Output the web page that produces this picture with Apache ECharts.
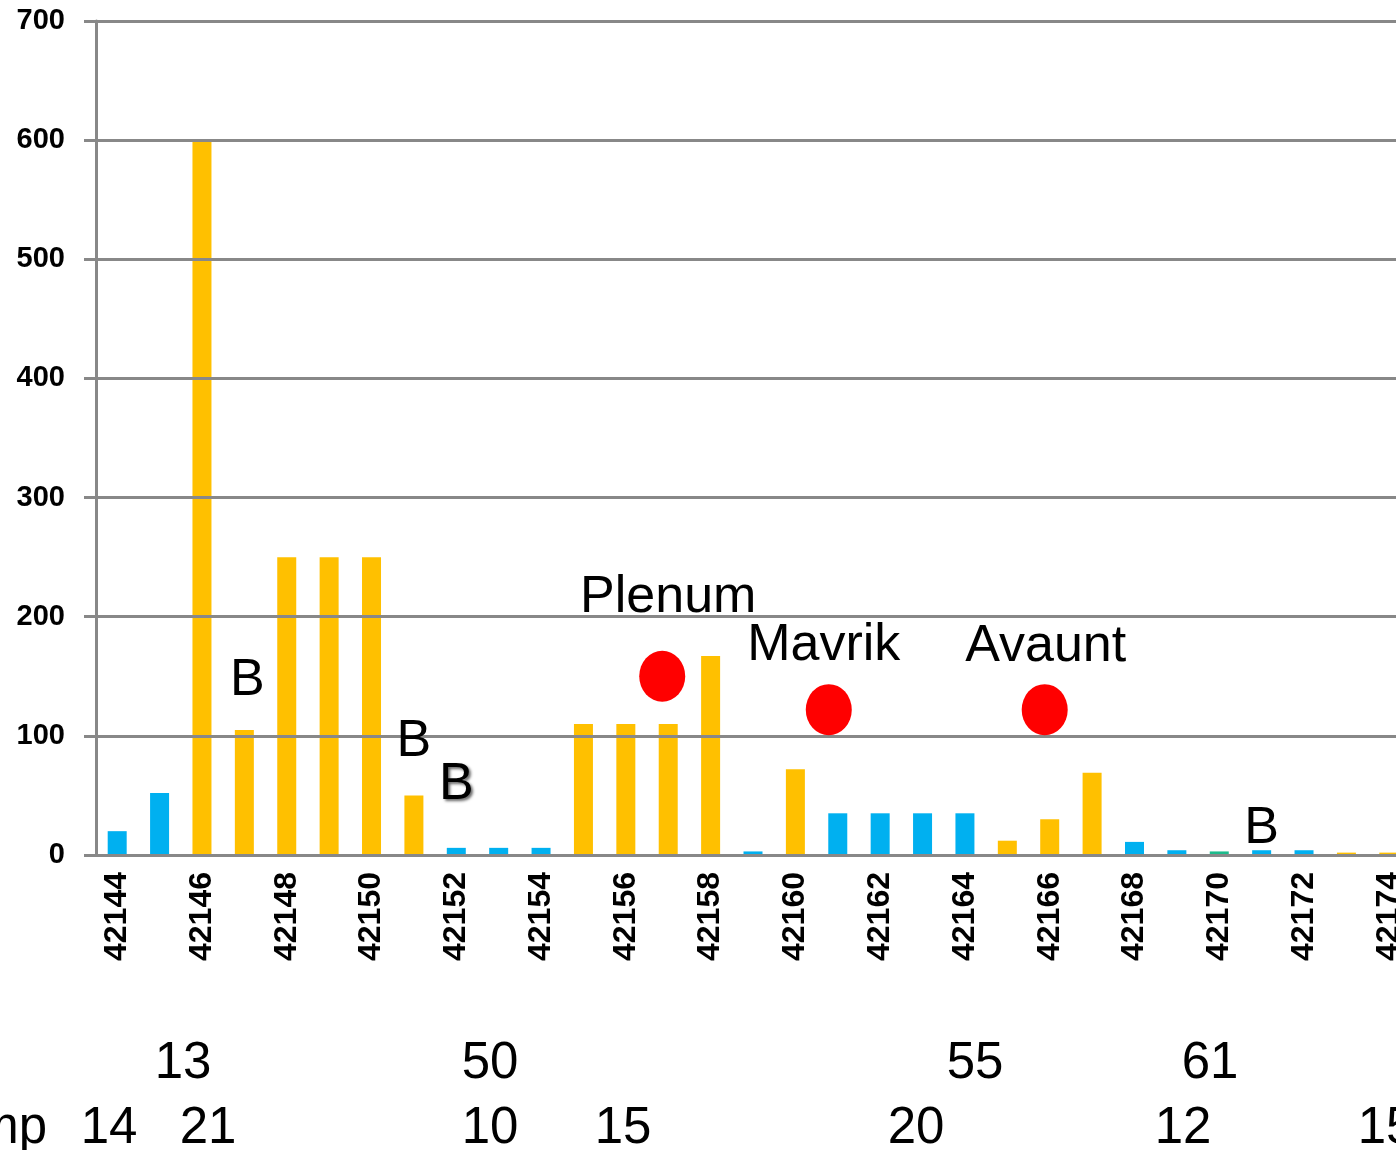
<!DOCTYPE html>
<html>
<head>
<meta charset="utf-8">
<script src="https://cdn.jsdelivr.net/npm/echarts@6/dist/echarts.min.js"></script>
<style>
  html, body { margin: 0; padding: 0; background: #fff; }
  #chart { width: 1396px; height: 1150px; }
</style>
</head>
<body>
<div id="chart"></div>
<script>
// categories along the x axis
const categories = ['42144', '42145', '42146', '42147', '42148', '42149', '42150', '42151',
  '42152', '42153', '42154', '42155', '42156', '42157', '42158', '42159', '42160', '42161',
  '42162', '42163', '42164', '42165', '42166', '42167', '42168', '42169', '42170', '42171',
  '42172', '42173', '42174']
const values = [20, 52, 600, 105, 250, 250, 250, 50, 6, 6, 6, 110, 110, 110, 167, 3, 72,
  35, 35, 35, 35, 12, 30, 69, 11, 4, 3, 4, 4, 2, 2]
// o = orange, b = blue, g = green
const kinds = ['b', 'b', 'o', 'o', 'o', 'o', 'o', 'o', 'b', 'b', 'b', 'o', 'o', 'o', 'o', 'b',
  'o', 'b', 'b', 'b', 'b', 'o', 'o', 'o', 'b', 'b', 'g', 'b', 'b', 'o', 'o']

const yTicks = [0, 100, 200, 300, 400, 500, 600, 700]

// red dots
const dotCats = ['42157', '42161', '42166']
const dotValues = [150, 122, 122]

// text notes inside the plot
const noteTexts = ['B', 'B', 'B', 'B', 'Plenum', 'Mavrik', 'Avaunt']
const noteCats = ['42147', '42151', '42152', '42171', '42157', '42161', '42166']
const noteValues = [146, 95, 59, 22, 216, 176, 175]

// rows of numbers under the chart
const rowOne = ['13', '50', '55', '61']
const rowTwo = ['Temp', '14', '21', '10', '15', '20', '12', '15']

const colors = { o: '#FFC000', b: '#00B0F0', g: '#1DBB8C' }
const gridGray = '#888888'
const font = '"Liberation Sans", Arial, sans-serif'

const chart = echarts.init(document.getElementById('chart'))

const rowOneX = [183, 490, 975, 1210]
const rowTwoX = [47, 109, 208, 490, 623, 916, 1183, 1386]
const dotShift = [-6, -9, -5]

const graphic = []
rowOne.forEach((t, i) => {
  graphic.push({
    type: 'text', x: rowOneX[i], y: 1064,
    style: { text: t, font: '51px ' + font, fill: '#000', align: 'center', verticalAlign: 'middle' },
  })
})
rowTwo.forEach((t, i) => {
  graphic.push({
    type: 'text', x: rowTwoX[i], y: 1129,
    style: {
      text: t, font: '51px ' + font, fill: '#000',
      align: i === 0 ? 'right' : 'center', verticalAlign: 'middle',
    },
  })
})

chart.setOption({
  animation: false,
  backgroundColor: '#fff',
  grid: {
    left: 96,
    top: 21,
    width: 1314,
    height: 834,
    outerBoundsMode: 'none',
  },
  xAxis: {
    type: 'category',
    data: categories,
    z: 5,
    axisLine: { lineStyle: { color: gridGray, width: 3 } },
    axisTick: { interval: 1, length: 12, lineStyle: { color: gridGray, width: 3 } },
    axisLabel: {
      interval: 1,
      rotate: 90,
      margin: 17,
      color: '#000',
      fontWeight: 'bold',
      fontSize: 32,
      fontFamily: font,
    },
  },
  yAxis: {
    type: 'value',
    min: yTicks[0],
    max: yTicks[yTicks.length - 1],
    interval: 100,
    z: 5,
    axisLine: { show: true, lineStyle: { color: gridGray, width: 3 } },
    axisTick: { show: true, length: 12, lineStyle: { color: gridGray, width: 3 } },
    splitLine: { lineStyle: { color: gridGray, width: 3 } },
    axisLabel: {
      margin: 31,
      color: '#000',
      fontWeight: 'bold',
      fontSize: 29,
      fontFamily: font,
    },
  },
  series: [
    {
      type: 'bar',
      z: 1,
      barWidth: 19,
      data: values.map((v, i) => ({ value: v, itemStyle: { color: colors[kinds[i]] } })),
    },
    {
      type: 'scatter',
      z: 6,
      symbol: 'circle',
      symbolSize: [46, 51],
      itemStyle: { color: '#FF0000', opacity: 1 },
      data: dotCats.map((c, i) => ({ value: [c, dotValues[i]], symbolOffset: [dotShift[i], 0] })),
    },
    {
      type: 'scatter',
      z: 7,
      symbolSize: 0,
      silent: true,
      itemStyle: { opacity: 1 },
      data: noteCats.map((c, i) => {
        const item = { name: noteTexts[i], value: [c, noteValues[i]] }
        if (i === 2) {
          item.label = {
            textShadowColor: 'rgba(0,0,0,0.6)', textShadowBlur: 3,
            textShadowOffsetX: 2, textShadowOffsetY: 2,
          }
        }
        if (i === 0) item.label = { offset: [3, 0] }
        if (i === 5) item.label = { offset: [-14, 0] }
        if (i === 6) item.label = { offset: [-4, 0] }
        return item
      }),
      label: {
        show: true,
        position: 'inside',
        formatter: p => p.name,
        color: '#000',
        opacity: 1,
        fontSize: 52,
        fontFamily: font,
      },
    },
  ],
  graphic: graphic,
})
</script>
</body>
</html>
